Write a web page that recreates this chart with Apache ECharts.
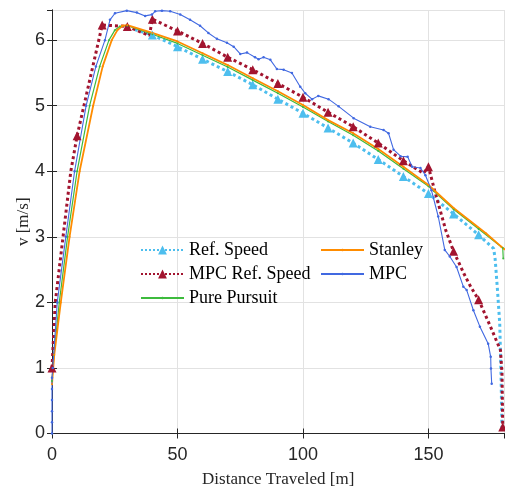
<!DOCTYPE html>
<html>
<head>
<meta charset="utf-8">
<script src="https://cdn.jsdelivr.net/npm/echarts@6/dist/echarts.min.js"></script>
<style>html,body{margin:0;padding:0;background:#fff}#c{width:505px;height:494px}</style>
</head>
<body>
<div id="c"></div>
<script>
// ---- data (distance [m], speed [m/s]) ----
const refSpeed = [[33,6.16],[40,6.08],[50,5.90],[60,5.71],[70,5.52],[80,5.32],[90,5.10],[100,4.885],[110,4.66],[120,4.43],[130,4.18],[140,3.92],[150,3.66],[160,3.35],[170,3.03],[176,2.82],[176.6,2.65],[177.5,2.19],[178.4,1.68],[178.9,0.92],[179.3,0.05]];
const mpcRefSpeed = [[0,1.0],[1.3,2.0],[4.4,3.0],[7.5,4.0],[10,4.54],[20,6.23],[30,6.21],[38.8,6.07],[40,6.32],[50,6.14],[60,5.95],[70,5.74],[80,5.55],[90,5.34],[100,5.13],[110,4.90],[120,4.68],[130,4.43],[140,4.16],[148,3.97],[150,4.07],[152.5,3.70],[156.9,3.10],[160,2.78],[164.1,2.44],[166.8,2.24],[170,2.04],[174.7,1.63],[178.7,1.27],[179.3,0.92],[179.6,0.1]];
const purePursuit = [[0,0.8],[0.8,1.2],[2.9,2.0],[6.2,3.0],[10.0,4.0],[15.0,5.0],[19,5.6],[22.7,6.0],[25,6.15],[27,6.21],[30,6.22],[40,6.09],[50,5.95],[60,5.77],[70,5.59],[80,5.39],[90,5.19],[100,4.98],[110,4.76],[120,4.55],[130,4.31],[140,4.04],[150,3.77],[160,3.42],[170,3.12],[179.6,2.83],[179.8,2.67]];
const stanley = [[0,0.75],[0.9,1.2],[3.5,2.0],[7.0,3.0],[11.0,4.0],[16.4,5.0],[20.2,5.6],[23.8,6.0],[26,6.15],[28,6.22],[30,6.23],[40,6.11],[50,5.98],[60,5.80],[70,5.62],[80,5.42],[90,5.22],[100,5.01],[110,4.78],[120,4.58],[130,4.34],[140,4.07],[150,3.79],[160,3.44],[173,3.05],[179,2.85],[180.3,2.81]];
const mpc = [[0,0],[0,0.17],[0,0.34],[0,0.51],[0,0.68],[0,0.85],[0.3,1.0],[2.1,2.0],[5.5,3.0],[9.0,4.0],[13.6,5.0],[17.5,5.6],[21.1,6.0],[23.1,6.31],[25.1,6.41],[29.8,6.45],[33.8,6.42],[37.1,6.37],[39.8,6.39],[41.1,6.44],[43.8,6.45],[47.1,6.44],[51.1,6.39],[55,6.31],[59,6.22],[62.3,6.11],[65.7,6.02],[69.7,5.96],[72.4,5.90],[75,5.79],[77.7,5.81],[80.9,5.74],[82.3,5.71],[84.3,5.74],[87,5.70],[89.6,5.56],[92.3,5.55],[95.6,5.50],[98.9,5.29],[100.9,5.19],[103.6,5.10],[106.1,5.15],[110.2,5.10],[114.2,4.99],[120.2,4.81],[126.8,4.68],[132.1,4.63],[134.1,4.58],[136.1,4.33],[138.9,4.23],[141.7,4.22],[143.5,4.07],[146.8,4.05],[148.8,3.94],[151.2,3.71],[153.9,3.31],[156.5,2.80],[158.5,2.70],[161.2,2.54],[163.9,2.24],[165.2,2.19],[167.9,1.88],[170.5,1.63],[173.8,1.37],[174.8,1.17],[174.9,0.99],[175.2,0.76]];
const xTicks = [0, 50, 100, 150];
const yTicks = [0, 1, 2, 3, 4, 5, 6];

// triangle markers every 10 m (and on the final MPC reference sample)
function markEvery10(arr, markLast) {
  return arr.map((p, i) => {
    const isMark = (p[0] % 10 === 0) || (markLast && i === arr.length - 1);
    return isMark ? { value: p } : { value: p, symbol: 'none' };
  });
}

const AX = '#262626';
const serif = 'Liberation Serif';
const sans = 'Liberation Sans';
const chart = echarts.init(document.getElementById('c'), null, { renderer: 'canvas' });
const legendText = { fontFamily: serif, fontSize: 18, color: '#000', lineHeight: 20 };

chart.setOption({
  animation: false,
  backgroundColor: '#fff',
  grid: { left: 52, right: 0.5, top: 10, bottom: 60.5 },
  legend: [
    { data: ['Ref. Speed', 'MPC Ref. Speed'], orient: 'vertical', left: 140, top: 240, padding: 0,
      itemWidth: 43, itemHeight: 11, itemGap: 4, textStyle: legendText },
    { data: ['Pure Pursuit'], orient: 'vertical', left: 140, top: 288, padding: 0,
      itemWidth: 43, itemHeight: 3, itemGap: 4, textStyle: legendText },
    { data: ['Stanley', 'MPC'], orient: 'vertical', left: 320, top: 240, padding: 0,
      itemWidth: 43, itemHeight: 3, itemGap: 4, textStyle: legendText }
  ],
  xAxis: [
    { type: 'value', position: 'bottom', min: xTicks[0], max: 180.3, interval: 50,
      axisLine: { show: true, lineStyle: { color: AX, width: 1 } },
      axisTick: { show: true, inside: true, length: 5, lineStyle: { color: AX } },
      axisLabel: { fontFamily: sans, fontSize: 18, color: AX, margin: 13, showMaxLabel: false },
      splitLine: { show: true, lineStyle: { color: '#e2e2e2', width: 1 } },
      name: 'Distance Traveled [m]', nameLocation: 'middle', nameGap: 38, nameMoveOverlap: false,
      nameTextStyle: { fontFamily: serif, fontSize: 17, color: AX } },
    { type: 'value', position: 'top', min: xTicks[0], max: 180.3, interval: 50,
      axisLine: { show: true, lineStyle: { color: AX, width: 1 } },
      axisTick: { show: true, inside: true, length: 5, lineStyle: { color: AX } },
      axisLabel: { show: false }, splitLine: { show: false } }
  ],
  yAxis: [
    { type: 'value', position: 'left', min: yTicks[0], max: 6.46, interval: 1,
      axisLine: { show: true, lineStyle: { color: AX, width: 1 } },
      axisTick: { show: true, inside: true, length: 5, lineStyle: { color: AX } },
      axisLabel: { fontFamily: sans, fontSize: 18, color: AX, margin: 7, showMaxLabel: false },
      splitLine: { show: true, lineStyle: { color: '#e2e2e2', width: 1 } },
      name: 'v [m/s]', nameLocation: 'middle', nameGap: 20, nameMoveOverlap: false,
      nameTextStyle: { fontFamily: serif, fontSize: 17, color: AX } },
    { type: 'value', position: 'right', min: yTicks[0], max: 6.46, interval: 1,
      axisLine: { show: true, lineStyle: { color: AX, width: 1 } },
      axisTick: { show: true, inside: true, length: 5, lineStyle: { color: AX } },
      axisLabel: { show: false }, splitLine: { show: false } }
  ],
  series: [
    { name: 'Ref. Speed', type: 'line', data: markEvery10(refSpeed, false),
      symbol: 'triangle', symbolSize: 9, showAllSymbol: true,
      lineStyle: { color: '#4DBEEE', width: 3, type: 'dotted' },
      itemStyle: { color: '#4DBEEE' } },
    { name: 'MPC Ref. Speed', type: 'line', data: markEvery10(mpcRefSpeed, true),
      symbol: 'triangle', symbolSize: 9, showAllSymbol: true,
      lineStyle: { color: '#A2142F', width: 3, type: 'dotted' },
      itemStyle: { color: '#A2142F' } },
    { name: 'Pure Pursuit', type: 'line', data: purePursuit,
      symbol: 'circle', symbolSize: 2, showAllSymbol: true,
      lineStyle: { color: '#3DBB3D', width: 1.2 }, itemStyle: { color: '#3DBB3D' } },
    { name: 'Stanley', type: 'line', data: stanley,
      symbol: 'circle', symbolSize: 2, showAllSymbol: true,
      lineStyle: { color: '#FF8C00', width: 1.8 }, itemStyle: { color: '#FF8C00' } },
    { name: 'MPC', type: 'line', data: mpc,
      symbol: 'circle', symbolSize: 2.5, showAllSymbol: true,
      lineStyle: { color: '#4169E1', width: 1.1 }, itemStyle: { color: '#4169E1' } }
  ]
});
</script>
</body>
</html>
